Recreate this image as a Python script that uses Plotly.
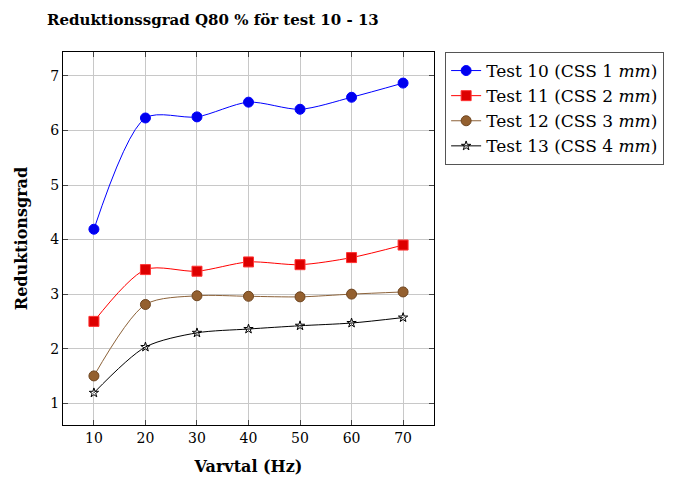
import plotly.graph_objects as go

freq = [10, 20, 30, 40, 50, 60, 70]
test10 = [4.19, 6.23, 6.25, 6.52, 6.39, 6.61, 6.87]
test11 = [2.50, 3.45, 3.42, 3.59, 3.54, 3.67, 3.90]
test12 = [1.50, 2.81, 2.97, 2.96, 2.95, 3.00, 3.04]
test13 = [1.19, 2.03, 2.29, 2.36, 2.42, 2.47, 2.57]
names = ["Test 10 (CSS 1 <i>mm</i>)", "Test 11 (CSS 2 <i>mm</i>)",
         "Test 12 (CSS 3 <i>mm</i>)", "Test 13 (CSS 4 <i>mm</i>)"]

FONT = "DejaVu Serif"
fig = go.Figure()
styles = [
    dict(line=dict(color="#0000ff", width=1, shape="spline", smoothing=0.8),
         marker=dict(symbol="circle", size=10, color="#0000ee", line=dict(color="#0000ff", width=1))),
    dict(line=dict(color="#ff0000", width=1, shape="spline", smoothing=0.8),
         marker=dict(symbol="square", size=10, color="#dd0000", line=dict(color="#ff3333", width=1))),
    dict(line=dict(color="#8c6239", width=1, shape="spline", smoothing=0.8),
         marker=dict(symbol="circle", size=10, color="#94602f", line=dict(color="#6e4520", width=1))),
    dict(line=dict(color="#000000", width=1, shape="spline", smoothing=0.8),
         marker=dict(symbol="star-open", size=7, color="#000000", line=dict(color="#000000", width=1))),
]
for ys, nm, st in zip([test10, test11, test12, test13], names, styles):
    fig.add_trace(go.Scatter(x=freq, y=ys, name=nm, mode="lines+markers", **st))

axis_common = dict(showline=True, linecolor="black", linewidth=1, mirror="ticks",
                   ticks="inside", ticklen=5, tickcolor="#444", showgrid=True,
                   gridcolor="#c8c8c8", gridwidth=1, zeroline=False, automargin=False,
                   tickfont=dict(family=FONT, size=14, color="black"))
fig.update_xaxes(range=[4, 76], tickvals=freq, **axis_common,
                 title=dict(text="<b>Varvtal (Hz)</b>", font=dict(family=FONT, size=16, color="black"), standoff=16))
fig.update_yaxes(range=[0.6, 7.44], tickvals=[1, 2, 3, 4, 5, 6, 7], **axis_common,
                 title=dict(text="<b>Reduktionsgrad</b>", font=dict(family=FONT, size=16, color="black"), standoff=18))

fig.update_layout(
    width=680, height=477,
    margin=dict(l=63, r=246, t=52, b=52),
    paper_bgcolor="white", plot_bgcolor="white",
    title=dict(text="<b>Reduktionssgrad Q80 % för test 10 - 13</b>", x=47/680, xanchor="left",
               y=1 - 20/477, yanchor="middle", font=dict(family=FONT, size=15, color="black")),
    legend=dict(x=1.03, xanchor="left", y=1, yanchor="top", bordercolor="#555", borderwidth=1,
                font=dict(family=FONT, size=17, color="black"), tracegroupgap=0,
                itemwidth=30),
    showlegend=True,
)
fig.write_html("out.html")
